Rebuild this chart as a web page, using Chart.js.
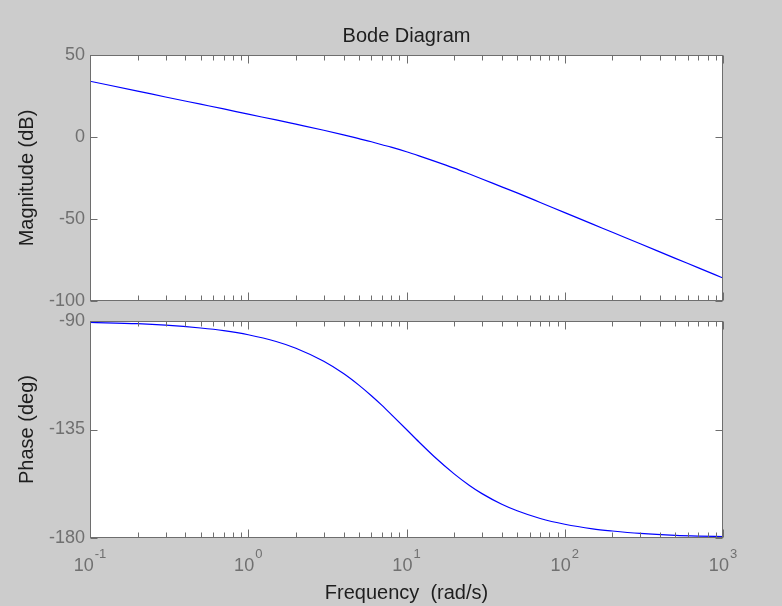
<!DOCTYPE html>
<html>
<head>
<meta charset="utf-8">
<script src="https://cdn.jsdelivr.net/npm/chart.js@4"></script>
<style>
  html, body { margin: 0; padding: 0; background: #cccccc; }
  #wrap { position: relative; width: 782px; height: 606px; overflow: hidden; }
  canvas { position: absolute; left: 0; }
  #magChart { top: 0; }
  #phaseChart { top: 290px; }
</style>
</head>
<body>
<div id="wrap">
  <canvas id="magChart" width="782" height="330"></canvas>
  <canvas id="phaseChart" width="782" height="316"></canvas>
</div>
<script>
// ==============================
//  DATA
// ==============================
const FREQS = [0.1, 0.2, 0.3, 0.5, 0.7, 1, 1.5, 2, 3, 4, 5, 6, 7, 8, 10, 12, 15, 20, 25, 30,
               40, 50, 70, 100, 150, 200, 300, 500, 700, 1000];
const MAG_DB = [34.0, 28.0, 24.4, 20.0, 17.1, 13.9, 10.4, 7.8, 4.1, 1.3,
                -1.0, -2.9, -4.7, -6.2, -9.0, -11.5, -14.7, -19.0, -22.6, -25.6,
                -30.4, -34.1, -39.9, -46.1, -53.1, -58.1, -65.1, -74.0, -79.8, -86.0];
const PHASE_DEG = [-90.6, -91.1, -91.7, -92.9, -94.0, -95.7, -98.5, -101.3, -106.7, -111.8,
                   -116.6, -121.0, -125.0, -128.7, -135.0, -140.2, -146.3, -153.4, -158.2, -161.6,
                   -166.0, -168.7, -171.9, -174.3, -176.2, -177.1, -178.1, -178.9, -179.2, -179.4];

const MAG_TICKS = [-100, -50, 0, 50];
const PHASE_TICKS = [-180, -135, -90];
const DECADES = [-1, 0, 1, 2, 3];

// ==============================
//  STYLE
// ==============================
const FONT = "'Liberation Sans', Arial, sans-serif";
const TICK_COLOR = '#707070';
const TEXT_COLOR = '#1e1e1e';
const AXIS_COLOR = '#6e6e6e';

// white axes box + MATLAB style inward ticks
const framePlugin = {
  id: 'frame',
  beforeDraw(chart) {
    const a = chart.chartArea, ctx = chart.ctx;
    ctx.save();
    ctx.fillStyle = '#ffffff';
    ctx.fillRect(a.left, a.top, a.right - a.left, a.bottom - a.top);
    ctx.restore();
  },
  afterDraw(chart) {
    const a = chart.chartArea, ctx = chart.ctx;
    const xs = chart.scales.x, ys = chart.scales.y;
    const L = Math.round(a.left) + 0.5, R = Math.round(a.right) - 0.5;
    const T = Math.round(a.top) + 0.5, B = Math.round(a.bottom) - 0.5;
    ctx.save();
    ctx.strokeStyle = AXIS_COLOR;
    ctx.lineWidth = 1;
    ctx.strokeRect(L, T, R - L, B - T);
    ctx.beginPath();
    DECADES.forEach((d, i) => {
      for (let m = 1; m <= 9; m++) {
        if (m > 1 && i === DECADES.length - 1) break;
        const px = Math.round(xs.getPixelForValue(m * Math.pow(10, d))) + 0.5;
        const len = m === 1 ? 8 : 5;
        ctx.moveTo(px, T); ctx.lineTo(px, T + len);
        ctx.moveTo(px, B); ctx.lineTo(px, B - len);
      }
    });
    ys.ticks.forEach(t => {
      const py = Math.round(ys.getPixelForValue(t.value)) + 0.5;
      ctx.moveTo(L, py); ctx.lineTo(L + 7, py);
      ctx.moveTo(R, py); ctx.lineTo(R - 7, py);
    });
    ctx.stroke();
    ctx.restore();
  }
};

// 10^k labels under the phase axes
const decadeLabels = {
  id: 'decadeLabels',
  afterDraw(chart) {
    const ctx = chart.ctx, xs = chart.scales.x, B = chart.chartArea.bottom;
    ctx.save();
    ctx.fillStyle = TICK_COLOR;
    ctx.textBaseline = 'alphabetic';
    ctx.textAlign = 'left';
    DECADES.forEach(d => {
      const px = xs.getPixelForValue(Math.pow(10, d));
      ctx.font = '18px ' + FONT;
      const wBase = ctx.measureText('10').width;
      ctx.font = '13px ' + FONT;
      const wExp = ctx.measureText(String(d)).width;
      const x0 = px - (wBase + 1 + wExp) / 2;
      ctx.font = '18px ' + FONT;
      ctx.fillText('10', x0, B + 33);
      ctx.font = '13px ' + FONT;
      ctx.fillText(String(d), x0 + wBase + 1, B + 20);
    });
    ctx.restore();
  }
};

function yAxis(title, ticks, min, max) {
  return {
    type: 'linear',
    min: min, max: max,
    afterBuildTicks: s => { s.ticks = ticks.map(v => ({ value: v })); },
    afterFit: s => { s.width = 90; },
    grid: { display: false, drawTicks: false },
    border: { display: false },
    ticks: { color: TICK_COLOR, font: { family: FONT, size: 18 }, padding: 5 },
    title: {
      display: true, text: title, color: TEXT_COLOR,
      font: { family: FONT, size: 20 }, padding: { top: 15, bottom: 0 }
    }
  };
}

function lineData(values) {
  return {
    datasets: [{
      data: FREQS.map((f, i) => ({ x: f, y: values[i] })),
      borderColor: '#0000ff',
      borderWidth: 1.2,
      pointRadius: 0,
      cubicInterpolationMode: 'monotone',
      fill: false
    }]
  };
}

const common = {
  responsive: false,
  animation: false,
  devicePixelRatio: 1,
  plugins: { legend: { display: false }, tooltip: { enabled: false } }
};

// ==============================
//  MAGNITUDE
// ==============================
new Chart(document.getElementById('magChart'), {
  type: 'line',
  data: lineData(MAG_DB),
  options: {
    ...common,
    layout: { padding: { left: 0, right: 59, top: 0, bottom: 29 } },
    scales: {
      x: {
        type: 'logarithmic', position: 'top', min: 0.1, max: 1000,
        afterFit: s => { s.height = 55; },
        grid: { display: false, drawTicks: false },
        border: { display: false },
        ticks: { display: false },
        title: {
          display: true, text: 'Bode Diagram', color: TEXT_COLOR,
          font: { family: FONT, size: 20 }, padding: { top: 24, bottom: 0 }
        }
      },
      y: yAxis('Magnitude (dB)', MAG_TICKS, -100, 50)
    }
  },
  plugins: [framePlugin]
});

// ==============================
//  PHASE
// ==============================
new Chart(document.getElementById('phaseChart'), {
  type: 'line',
  data: lineData(PHASE_DEG),
  options: {
    ...common,
    layout: { padding: { left: 0, right: 59, top: 31, bottom: 0 } },
    scales: {
      x: {
        type: 'logarithmic', position: 'bottom', min: 0.1, max: 1000,
        afterFit: s => { s.height = 68; },
        grid: { display: false, drawTicks: false },
        border: { display: false },
        ticks: { display: false },
        title: {
          display: true, text: 'Frequency  (rad/s)', color: TEXT_COLOR,
          font: { family: FONT, size: 20 }, padding: { top: 0, bottom: 1 }
        }
      },
      y: yAxis('Phase (deg)', PHASE_TICKS, -180, -90)
    }
  },
  plugins: [framePlugin, decadeLabels]
});
</script>
</body>
</html>
